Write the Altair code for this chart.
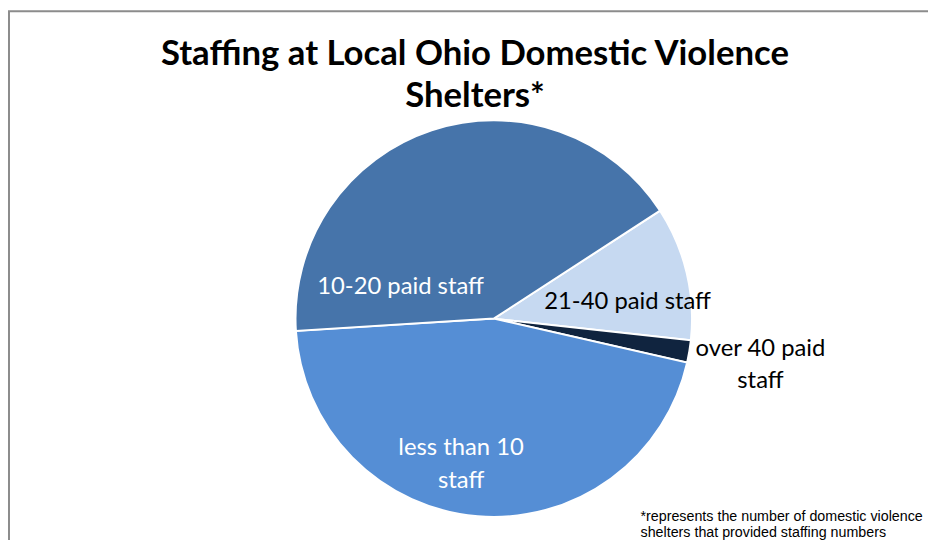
import math
import altair as alt
import pandas as pd

# Data
categories = ["21-40 paid staff", "over 40 paid staff", "less than 10 staff", "10-20 paid staff"]
counts = [6, 1, 25, 23]
order_idx = [0, 1, 2, 3]
colors = ["#C6D9F1", "#10243F", "#558ED5", "#4674AA"]

title_lines = ["Staffing at Local Ohio Domestic Violence", "Shelters*"]
footnote_lines = ["*represents the number of domestic violence",
                  "shelters that provided staffing numbers"]

df = pd.DataFrame({"cat": categories, "n": counts, "idx": order_idx})

W, H = 928, 532
CX, CY, R = 490, 311, 200
start = math.radians(57)

base = alt.Chart(df)

pie = base.mark_arc(outerRadius=R, stroke="white", strokeWidth=2).encode(
    x=alt.value(CX), y=alt.value(CY),
    theta=alt.Theta("n:Q", stack=True, scale=alt.Scale(range=[start, start + 2 * math.pi])),
    order=alt.Order("idx:Q"),
    color=alt.Color("cat:N", scale=alt.Scale(domain=categories, range=colors), legend=None),
)

frame = alt.Chart(pd.DataFrame({"a": [0]})).mark_rect(
    fill=None, stroke="#8c8c8c", strokeWidth=2
).encode(x=alt.value(1), x2=alt.value(960), y=alt.value(1), y2=alt.value(560))

def txt(text, x, y, color="black", size=24, font="Lato", weight="normal", align="center", lh=None):
    kw = dict(font=font, fontSize=size, fontWeight=weight, color=color, align=align, baseline="middle")
    if lh:
        kw["lineHeight"] = lh
    return alt.Chart(pd.DataFrame({"t": [text]})).mark_text(**kw).encode(
        x=alt.value(x), y=alt.value(y), text="t:N")

title = txt(title_lines, 471, 44, size=35, weight="bold", lh=43)
l1 = txt(["10-20 paid staff"], 396, 279, color="white")
l2 = txt(["21-40 paid staff"], 625, 294)
l3 = txt(["over 40 paid", "staff"], 759, 342, lh=32)
l4 = txt(["less than 10", "staff"], 457, 442, color="white", lh=33)
foot = alt.Chart(pd.DataFrame({"t": [footnote_lines]})).mark_text(
    font="Liberation Sans", fontSize=14.4, color="black", align="left", baseline="middle", lineHeight=16
).encode(x=alt.value(638), y=alt.value(511), text="t:N")

chart = alt.layer(frame, pie, title, l1, l2, l3, l4, foot).properties(
    width=W, height=H, autosize=alt.AutoSizeParams(type="none"), padding=0, background="white"
).configure_view(stroke=None)

chart.save("out.html", embed_options={"renderer": "svg", "actions": False})
